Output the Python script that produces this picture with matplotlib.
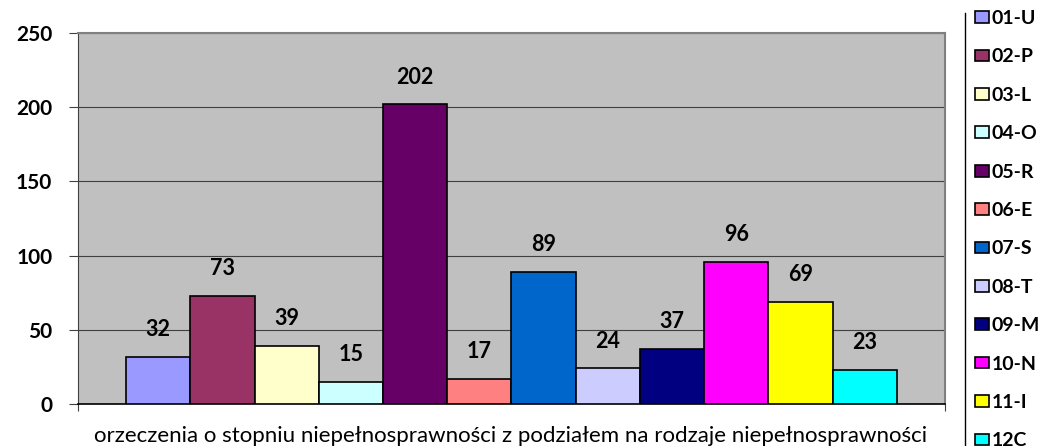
import matplotlib
matplotlib.use("Agg")
import matplotlib.pyplot as plt
from matplotlib.lines import Line2D

categories = ["01-U", "02-P", "03-L", "04-O", "05-R", "06-E",
              "07-S", "08-T", "09-M", "10-N", "11-I", "12C"]
values = [32, 73, 39, 15, 202, 17, 89, 24, 37, 96, 69, 23]
colors = ["#9999FF", "#993366", "#FFFFCC", "#CCFFFF", "#660066", "#FF8080",
          "#0066CC", "#CCCCFF", "#000080", "#FF00FF", "#FFFF00", "#00FFFF"]
y_ticks = [0, 50, 100, 150, 200, 250]
x_title = "orzeczenia o stopniu niepełnosprawności z podziałem na rodzaje niepełnosprawności"

FONT = ["Lato", "DejaVu Sans"]
plt.rcParams["font.family"] = FONT

W, H = 1044, 446
fig = plt.figure(figsize=(W / 100, H / 100), dpi=100)
ax = fig.add_axes([78 / W, 1 - 404 / H, (945 - 78) / W, (404 - 33) / H])
ax.set_facecolor("#C0C0C0")

for i, (cat, val, col) in enumerate(zip(categories, values, colors)):
    ax.bar(i, val, width=1.0, color=col, edgecolor="black",
           linewidth=1.2, label=cat, zorder=3)
    ax.annotate(str(val), (i, val), xytext=(0, 12), textcoords="offset points",
                ha="center", va="bottom", fontsize=15.5, fontweight="bold",
                color="black", zorder=4)

n = len(categories)
ax.set_xlim(-0.5 - 0.75, n - 0.5 + 0.75)
ax.set_ylim(0, 250)
ax.set_yticks(y_ticks)
ax.set_yticklabels([str(t) for t in y_ticks], fontsize=15, fontweight="bold")
ax.tick_params(axis="y", direction="out", length=6.5, width=0.8, pad=12,
               color="#404040")
ax.set_xticks([-0.5 - 0.75, n - 0.5 + 0.75])
ax.set_xticklabels([])
ax.tick_params(axis="x", direction="out", length=5, width=0.8, color="#404040")

ax.set_axisbelow(True)
ax.yaxis.grid(True, color="#404040", linewidth=0.8)
ax.xaxis.grid(False)

ax.spines["left"].set_color("#404040")
ax.spines["left"].set_linewidth(0.8)
ax.spines["bottom"].set_color("black")
ax.spines["bottom"].set_linewidth(1.2)
for s in ("top", "right"):
    ax.spines[s].set_color("#808080")
    ax.spines[s].set_linewidth(1.5)

fig.text(511 / W, 1 - 436 / H, x_title, ha="center", va="center",
         fontsize=16, color="black")

fig.legend(loc="upper left", bbox_to_anchor=(975 / W, 1 - 10 / H),
           frameon=False, borderpad=0, borderaxespad=0,
           prop={"size": 14, "weight": "bold", "family": FONT},
           handlelength=0.7, handleheight=0.55, handletextpad=0.15,
           labelspacing=1.1)

fig.add_artist(Line2D([965 / W, 965 / W], [0, 1 - 13 / H],
                      transform=fig.transFigure, color="black", linewidth=1))

fig.savefig("out.png", dpi=100)
